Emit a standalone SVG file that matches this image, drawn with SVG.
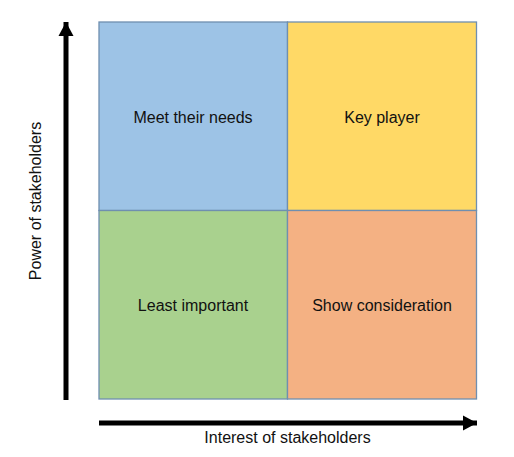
<svg xmlns="http://www.w3.org/2000/svg" width="514" height="457" viewBox="0 0 514 457">
<style>
.q{stroke:#6f8fb0;stroke-width:1.3}
.t{font-family:"Liberation Sans",Arial,sans-serif;font-size:16px;fill:#111;text-anchor:middle;dominant-baseline:central}
.ax{stroke:#000;stroke-width:5;fill:none}
</style>
<defs>
<marker id="ah" markerUnits="userSpaceOnUse" markerWidth="16" markerHeight="16" refX="14" refY="8" orient="auto">
<path d="M0,0.5 L14,8 L0,15.5 Z" fill="#000"/>
</marker>
</defs>
<rect width="514" height="457" fill="#fff"/>
<g id="meet"><rect class="q" x="99" y="22" width="188.5" height="188.5" fill="#9dc3e6"/><text class="t" x="193" y="117">Meet their needs</text></g>
<g id="key"><rect class="q" x="287.5" y="22" width="189" height="188.5" fill="#ffd966"/><text class="t" x="382" y="117">Key player</text></g>
<g id="least"><rect class="q" x="99" y="210.5" width="188.5" height="188.5" fill="#a9d18e"/><text class="t" x="193" y="305">Least important</text></g>
<g id="show"><rect class="q" x="287.5" y="210.5" width="189" height="188.5" fill="#f4b183"/><text class="t" x="382" y="305">Show consideration</text></g>
<g id="connectors">
<line class="ax" x1="66" y1="400" x2="66" y2="22" marker-end="url(#ah)"/>
<line class="ax" x1="99" y1="423" x2="477" y2="423" marker-end="url(#ah)"/>
</g>
<text class="t" x="287.5" y="437">Interest of stakeholders</text>
<text class="t" transform="translate(35,201) rotate(-90)">Power of stakeholders</text>
</svg>
